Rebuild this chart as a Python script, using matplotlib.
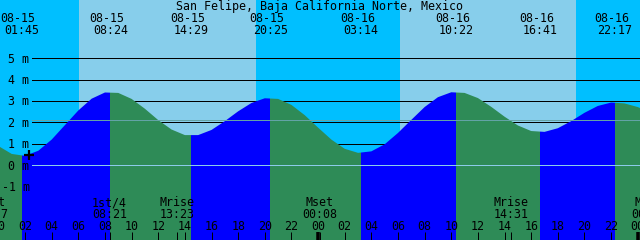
import matplotlib
matplotlib.use('Agg')
import matplotlib.pyplot as plt
from matplotlib.patches import Polygon

titulo = 'San Felipe, Baja California Norte, Mexico'

# altura da maré (m), hora a hora; hora 0 = 08-15 00:00
horas = list(range(50))
alturas = [0.90, 0.53, 0.44, 0.68, 1.20, 1.88, 2.56, 3.11, 3.40, 3.38,
           3.10, 2.64, 2.11, 1.67, 1.41, 1.41, 1.65, 2.06, 2.52, 2.91,
           3.13, 3.10, 2.82, 2.34, 1.76, 1.20, 0.77, 0.58, 0.65, 0.98,
           1.51, 2.12, 2.72, 3.18, 3.41, 3.38, 3.14, 2.73, 2.27, 1.86,
           1.60, 1.56, 1.73, 2.06, 2.45, 2.77, 2.93, 2.89, 2.72, 2.45]

# extremos (baixa-mar / preia-mar)
ext_datas = ['08-15', '08-15', '08-15', '08-15', '08-16', '08-16', '08-16', '08-16']
ext_horas = ['01:45', '08:24', '14:29', '20:25', '03:14', '10:22', '16:41', '22:17']
ext_tipo = ['L', 'H', 'L', 'H', 'L', 'H', 'L', 'H']

# sol (horas)
nascer_sol = [6.05, 30.13]
por_sol = [19.34, 43.36]

# lua
lua_eventos = ['Mset', '1st/4', 'Mrise', 'Mset', 'Mrise', 'Mset']
lua_horas = ['23:27', '08:21', '13:23', '00:08', '14:31', '00:50']
lua_dias = [-1, 0, 0, 1, 1, 2]

niveis = [-1, 0, 1, 2, 3, 4, 5]
nivel_medio = 2.12
agora_hora, agora_altura = 2.3, 0.47

COR_NOITE = '#00BFFF'
COR_DIA = '#87CEEB'
COR_ENCHENTE = '#0000FF'
COR_VAZANTE = '#2E8B57'
FONTE = 'DejaVu Sans Mono'
FS = 8.4
PX = 0.72  # 1 pixel em pontos


def para_horas(hhmm, dia=0):
    h, m = hhmm.split(':')
    return dia * 24 + int(h) + int(m) / 60


t_ext = [para_horas(hm, 0 if d == '08-15' else 1) for d, hm in zip(ext_datas, ext_horas)]
t_lua = [para_horas(hm, d) for hm, d in zip(lua_horas, lua_dias)]

fig = plt.figure(figsize=(6.4, 2.4), dpi=100)
ax = fig.add_axes([0, 0, 1, 1])
x0, x1 = 0.12, 48.17
y0, y1 = -3.49, 7.72
ax.set_xlim(x0, x1)
ax.set_ylim(y0, y1)
ax.axis('off')

# céu: noite / dia
ax.axvspan(x0, x1, color=COR_NOITE, lw=0, zorder=0)
for a, b in zip(nascer_sol, por_sol):
    ax.axvspan(a, b, color=COR_DIA, lw=0, zorder=0)

# linhas de metro (atrás da água)
for n in niveis:
    ax.axhline(n, xmin=32 / 640, xmax=1, color='black', lw=PX, zorder=1)

# água: faixas azul (enchente) / verde (vazante) recortadas pela curva
poly = Polygon(list(zip(horas, alturas)) + [(horas[-1], y0 - 1), (horas[0], y0 - 1)],
               closed=True, facecolor='none', edgecolor='none')
ax.add_patch(poly)
limites = [x0 - 1] + t_ext + [x1 + 1]
for i in range(len(limites) - 1):
    if i == 0:
        cor = COR_VAZANTE if ext_tipo[0] == 'L' else COR_ENCHENTE
    else:
        cor = COR_ENCHENTE if ext_tipo[i - 1] == 'L' else COR_VAZANTE
    faixa = ax.axvspan(limites[i], limites[i + 1], color=cor, lw=0, zorder=2)
    faixa.set_clip_path(poly)

# nível zero e nível médio por cima da água
ax.axhline(0, xmin=32 / 640, xmax=1, color='#8ccbea', lw=PX, zorder=3)
ax.axhline(nivel_medio, xmin=32 / 640, xmax=1, color='#63a3a6', lw=PX, zorder=3)

# marcador de "agora"
ax.plot([agora_hora], [agora_altura], marker='+', ms=7, mew=1.6, color='black', zorder=4)


def texto(x, ypx, s, dx=0, ha='center'):
    ax.annotate(s, xy=(x, 1), xycoords=('data', 'axes fraction'),
                xytext=(dx, -ypx), textcoords='offset pixels',
                ha=ha, va='baseline', fontsize=FS, family=FONTE,
                annotation_clip=False, zorder=5)


# título
ax.annotate(titulo, xy=(0.5, 1), xycoords='axes fraction', xytext=(0, -10),
            textcoords='offset pixels', ha='center', va='baseline',
            fontsize=FS, family=FONTE, zorder=5)

# rótulos dos extremos
for t, d, hm in zip(t_ext, ext_datas, ext_horas):
    texto(t, 22, d, dx=-3.5)
    texto(t, 34, hm)

# rótulos do eixo y
for n in niveis:
    ax.annotate(f'{n} m', xy=(29.5 / 640, n), xycoords=('axes fraction', 'data'),
                xytext=(0, -4.3), textcoords='offset pixels', ha='right',
                va='baseline', fontsize=FS, family=FONTE, zorder=5)

# eventos da lua
for t, ev, hm in zip(t_lua, lua_eventos, lua_horas):
    texto(t, 206.3, ev)
    texto(t, 217.5, hm)

# horas e marcas no rodapé
marca = ax.get_xaxis_transform()
for h in range(0, 50, 2):
    texto(h, 229.5, f'{h % 24:02d}')
    lw = 3.5 * PX if h % 24 == 0 else PX
    ax.vlines(h, 0, 8 / 240, transform=marca, color='black', lw=lw, zorder=5)
ax.vlines(t_lua, 0, 8 / 240, transform=marca, color='black', lw=PX, zorder=5)

fig.savefig('out.png', dpi=100)
